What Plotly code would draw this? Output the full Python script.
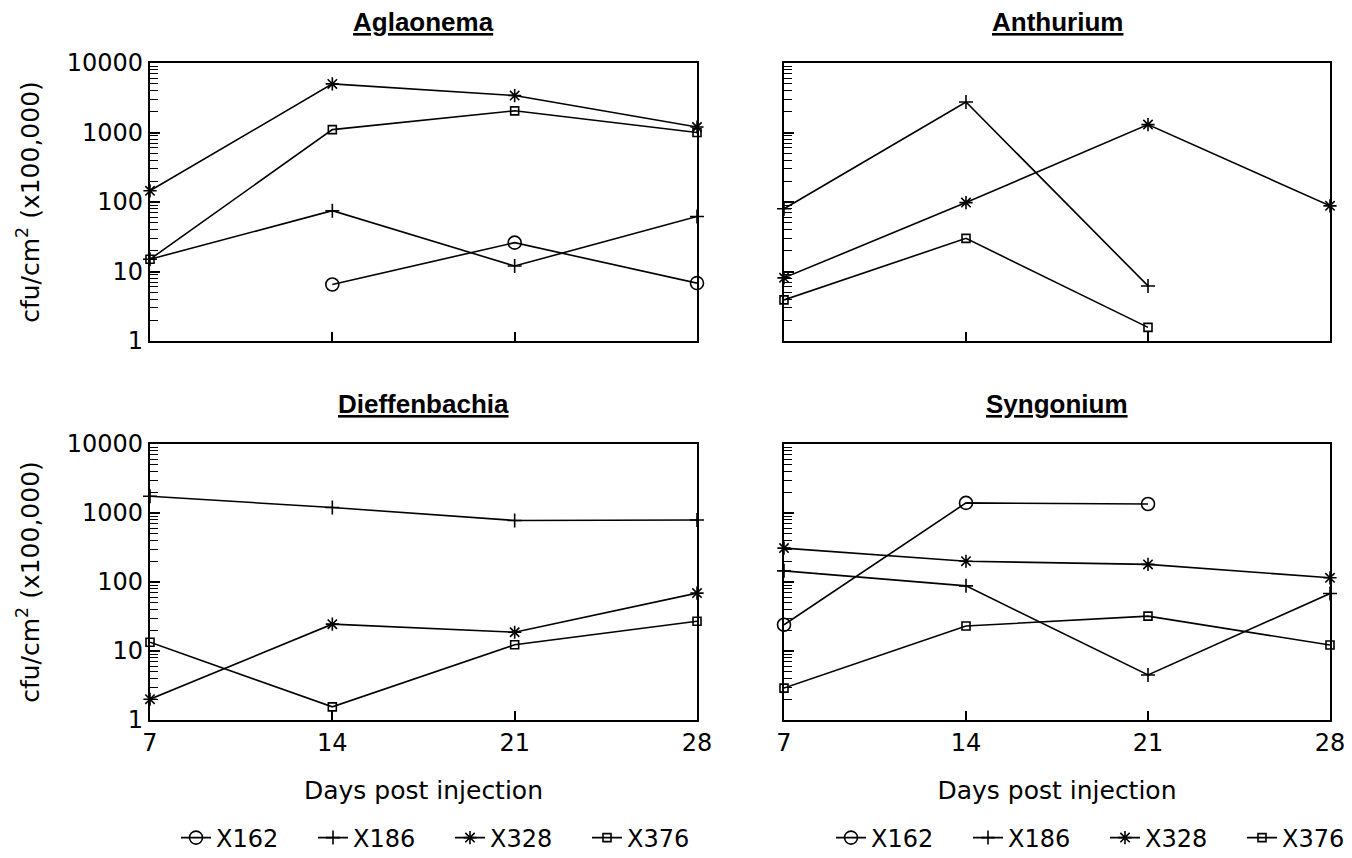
import plotly.graph_objects as go

# ---------------- data ----------------
days = [7, 14, 21, 28]
series_names = ["X162", "X186", "X328", "X376"]

# Aglaonema
agl_x162 = [None, 6.5, 26, 6.8]
agl_x186 = [15, 75, 12, 62]
agl_x328 = [145, 5000, 3400, 1200]
agl_x376 = [15, 1100, 2050, 1000]

# Anthurium
ant_x162 = [None, None, None, None]
ant_x186 = [80, 2750, 6.2, None]
ant_x328 = [8.1, 98, 1300, 88]
ant_x376 = [3.9, 30, 1.57, None]

# Dieffenbachia
die_x162 = [None, None, None, None]
die_x186 = [1750, 1200, 780, 790]
die_x328 = [2.0, 24.5, 18.7, 69]
die_x376 = [13.4, 1.55, 12.3, 27]

# Syngonium
syn_x162 = [24, 1400, 1350, None]
syn_x186 = [145, 88, 4.5, 68]
syn_x328 = [310, 200, 180, 115]
syn_x376 = [2.9, 23, 32, 12.2]

panel_titles = ["Aglaonema", "Anthurium", "Dieffenbachia", "Syngonium"]
y_tick_vals = [1, 10, 100, 1000, 10000]
y_tick_text = ["1", "10", "100", "1000", "10000"]
x_tick_text = ["7", "14", "21", "28"]
y_title = "cfu/cm<sup>2</sup> (x100,000)"
x_title = "Days post injection"

panels = [
    [agl_x162, agl_x186, agl_x328, agl_x376],
    [ant_x162, ant_x186, ant_x328, ant_x376],
    [die_x162, die_x186, die_x328, die_x376],
    [syn_x162, syn_x186, syn_x328, syn_x376],
]

# ---------------- style ----------------
OFF = 8                       # page body margin of the exported html
W, H = 1352 - OFF, 858 - OFF
FONT = "DejaVu Sans"
TFONT = "Liberation Sans"
symbols = ["circle-open", "cross-thin-open", "asterisk-open", "square-open"]
msizes = [13, 10, 11, 8]


def px(v):
    return v - OFF


# panel pixel boxes in page coordinates (left, right, top, bottom)
boxes = [(150, 697, 63, 341), (784, 1330, 63, 341),
         (150, 697, 444, 720), (784, 1330, 444, 720)]

fig = go.Figure()

legend_panel = {0: "legend", 3: "legend2"}
for p, data in enumerate(panels):
    ax = "" if p == 0 else str(p + 1)
    for s, vals in enumerate(data):
        fig.add_trace(go.Scatter(
            x=days, y=vals, name=series_names[s],
            mode="lines+markers",
            xaxis="x" + ax, yaxis="y" + ax,
            line=dict(color="black", width=1.6),
            marker=dict(symbol=symbols[s], size=msizes[s], color="black",
                        line=dict(width=1.6, color="black")),
            cliponaxis=False,
            showlegend=p in legend_panel,
            legend=legend_panel.get(p, "legend"),
        ))

minor_vals = [m * 10 ** d for d in range(4) for m in range(2, 10)]

layout = dict(
    width=W, height=H, template="none",
    paper_bgcolor="white", plot_bgcolor="white",
    margin=dict(l=0, r=0, t=0, b=0, autoexpand=False),
    font=dict(family=FONT, size=24, color="black"),
)

for p, (l, r, t, b) in enumerate(boxes):
    ax = "" if p == 0 else str(p + 1)
    xd = [px(l) / W, px(r) / W]
    yd = [1 - px(b) / H, 1 - px(t) / H]
    left = p in (0, 2)
    bottom = p in (2, 3)
    layout["xaxis" + ax] = dict(
        domain=xd, anchor="y" + ax, range=[7, 28],
        tickvals=days, ticktext=x_tick_text, showticklabels=bottom,
        ticks="inside", ticklen=9, tickwidth=1.5, tickcolor="black",
        showline=True, linewidth=2.2, linecolor="black", mirror=True,
        showgrid=False, zeroline=False, automargin=False,
        tickfont=dict(family=FONT, size=24),
        title=dict(text=x_title if bottom else "", standoff=26,
                   font=dict(family=FONT, size=25)),
    )
    layout["yaxis" + ax] = dict(
        domain=yd, anchor="x" + ax, type="log", range=[0, 4],
        tickvals=y_tick_vals, ticktext=y_tick_text, showticklabels=left,
        ticks="inside", ticklen=10, tickwidth=1.5, tickcolor="black",
        minor=dict(tickvals=minor_vals, ticks="inside", ticklen=8,
                   tickwidth=1.2, tickcolor="black", showgrid=False),
        showline=True, linewidth=2.2, linecolor="black", mirror=True,
        showgrid=False, zeroline=False, automargin=False,
        tickfont=dict(family=FONT, size=24),
        title=dict(text=y_title if left else "", standoff=20,
                   font=dict(family=FONT, size=25)),
    )

fig.update_layout(**layout)

# panel titles
title_y = [22, 22, 404, 404]
annotations = []
for p, (l, r, t, b) in enumerate(boxes):
    annotations.append(dict(
        text="<u><b>" + panel_titles[p] + "</b></u>",
        x=px((l + r) / 2) / W, y=1 - px(title_y[p]) / H,
        xref="paper", yref="paper",
        showarrow=False, xanchor="center", yanchor="middle",
        font=dict(family=TFONT, size=26, color="black"),
    ))
fig.update_layout(annotations=annotations)

leg_common = dict(orientation="h", xanchor="center", yanchor="middle",
                  font=dict(family=FONT, size=24), itemwidth=30,
                  entrywidth=92, entrywidthmode="pixels",
                  bgcolor="rgba(0,0,0,0)")
fig.update_layout(
    legend=dict(x=px(450) / W, y=1 - px(838) / H, **leg_common),
    legend2=dict(x=px(1105) / W, y=1 - px(838) / H, **leg_common),
)

fig.write_html("out.html")
